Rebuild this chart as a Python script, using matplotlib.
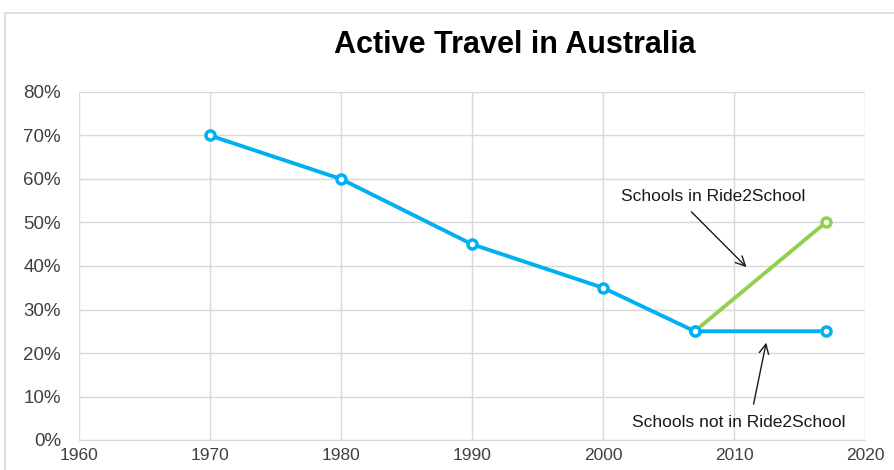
import matplotlib.pyplot as plt
import matplotlib.patches as mpatches
from matplotlib.ticker import PercentFormatter

plt.rcParams['font.family'] = ['Liberation Sans', 'DejaVu Sans']

# data
years_all = [1970, 1980, 1990, 2000, 2007, 2017]
share_all = [70, 60, 45, 35, 25, 25]
years_r2s = [2007, 2017]
share_r2s = [25, 50]

blue = "#00B0F0"
green = "#92D050"

fig = plt.figure(figsize=(8.95, 4.70), dpi=100)
fig.patch.set_facecolor("white")

# chart border (runs off the right/bottom edge like the screenshot)
border = mpatches.Rectangle((5/895, -0.05), 1.2, (470-13)/470 + 0.05,
                            transform=fig.transFigure, fill=False,
                            edgecolor="#D9D9D9", linewidth=1.2)
fig.patches.append(border)

ax = fig.add_axes([79/895, 30/470, 786/895, 348/470])

ax.plot(years_r2s, share_r2s, color=green, lw=2.8, marker="o", ms=6.5,
        mfc="white", mec=green, mew=2.5, zorder=3)
ax.plot(years_all, share_all, color=blue, lw=2.8, marker="o", ms=6.5,
        mfc="white", mec=blue, mew=2.5, zorder=4)

ax.set_xlim(1960, 2020)
ax.set_ylim(0, 80)
ax.set_xticks(range(1960, 2021, 10))
ax.set_yticks(range(0, 81, 10))
ax.yaxis.set_major_formatter(PercentFormatter(decimals=0))
ax.grid(True, color="#D9D9D9", lw=1)
ax.set_axisbelow(True)
for s in ["top", "right", "left"]:
    ax.spines[s].set_visible(False)
ax.spines["bottom"].set_color("#D9D9D9")
ax.tick_params(length=0, labelsize=13.5, colors="#404040")
ax.tick_params(axis="y", pad=13)
ax.tick_params(axis="x", pad=6, labelsize=12.5)

fig.text(515/895, (470-53)/470, "Active Travel in Australia",
         ha="center", va="baseline", fontsize=22, fontweight="bold")

arrow = dict(arrowstyle="->", color="#1a1a1a", lw=1, mutation_scale=17)
ax.annotate("", xy=(2011.1, 39.3), xytext=(2006.6, 52.9), arrowprops=arrow)
ax.text(2008.4, 56.0, "Schools in Ride2School", ha="center", va="center",
        fontsize=12.5, color="#1a1a1a")
ax.annotate("", xy=(2012.5, 23.0), xytext=(2011.45, 7.6), arrowprops=arrow)
ax.text(2010.4, 4.0, "Schools not in Ride2School", ha="center", va="center",
        fontsize=12.5, color="#1a1a1a")

fig.savefig("out.png", dpi=100)
